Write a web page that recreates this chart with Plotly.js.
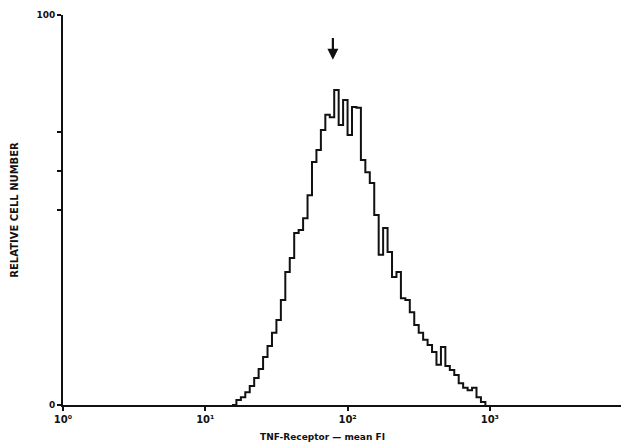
<!DOCTYPE html>
<html>
<head>
<meta charset="utf-8">
<script src="https://cdn.plot.ly/plotly-3.0.1.min.js"></script>
<style>html,body{margin:0;padding:0;background:#fff;}#chart{width:621px;height:447px;}</style>
</head>
<body>
<div id="chart"></div>
<script>
// Channel (log scale, 32 channels per decade) and relative cell counts
const channels = [38,39,40,41,42,43,44,45,46,47,48,49,50,51,52,53,54,55,56,57,58,59,60,61,62,63,64,65,66,67,68,69,70,71,72,73,74,75,76,77,78,79,80,81,82,83,84,85,86,87,88,89,90,91,92,93,94,95];
const counts = [0,1.3,2,3.3,4.9,6.9,9.2,12.3,15.1,18.5,21.8,26.9,34.1,37.7,44.1,44.9,47.9,53.8,62.3,65.4,70.5,74.4,73.8,80.8,71.8,78.2,69.2,76.4,76.2,62.8,59.7,56.9,48.7,38.5,45.4,39.2,32.8,34.1,27.4,26.9,23.8,20.5,18.5,16.7,15.4,13.6,10.3,14.9,10,9,7.7,5.6,4.4,3.8,4.4,2,0.8,0];
const xTickVals = [0,32,64,96];
const xTickText = ["10⁰","10¹","10²","10³"];
const yTickVals = [0,50,60,70,100];
const yTickText = ["0","","","","100"];
const peakChannel = 60.7;

const trace = {
  x: channels, y: counts, type: 'scatter', mode: 'lines',
  line: {shape: 'hv', color: '#111', width: 2},
  hoverinfo: 'skip'
};

const layout = {
  width: 621, height: 447,
  margin: {l: 63, r: 0, t: 15, b: 42},
  paper_bgcolor: '#fff', plot_bgcolor: '#fff',
  showlegend: false,
  font: {family: 'DejaVu Sans', color: '#111'},
  xaxis: {
    range: [0, 125.5], showgrid: false, zeroline: false,
    showline: true, linecolor: '#111', linewidth: 2,
    ticks: 'outside', ticklen: 4, tickwidth: 2, tickcolor: '#111',
    tickvals: xTickVals, ticktext: xTickText,
    tickfont: {size: 10, family: 'DejaVu Sans', weight: 'bold'}
  },
  yaxis: {
    range: [0, 100], showgrid: false, zeroline: false,
    showline: true, linecolor: '#111', linewidth: 2,
    ticks: 'outside', ticklen: 4, tickwidth: 1.5, tickcolor: '#111',
    tickvals: yTickVals, ticktext: yTickText,
    tickfont: {size: 9, family: 'DejaVu Sans', weight: 'bold'},
    title: {text: '<b>RELATIVE CELL NUMBER</b>', font: {size: 10}, standoff: 16}
  },
  annotations: [{
    x: peakChannel, y: 88.5, xref: 'x', yref: 'y',
    ax: peakChannel, ay: 94.5, axref: 'x', ayref: 'y',
    showarrow: true, arrowhead: 2, arrowsize: 1, arrowwidth: 2.2, arrowcolor: '#111', text: ''
  }, {
    x: 322 / 621, y: 0, xref: 'paper', yref: 'paper', xanchor: 'center', yanchor: 'middle',
    yshift: -32, showarrow: false,
    text: '<b>TNF-Receptor — mean FI</b>', font: {size: 9, family: 'DejaVu Sans', color: '#111'}
  }]
};
layout.annotations[1].x = (322 - 63) / (621 - 63);

Plotly.newPlot('chart', [trace], layout, {displayModeBar: false, staticPlot: true});
</script>
</body>
</html>
